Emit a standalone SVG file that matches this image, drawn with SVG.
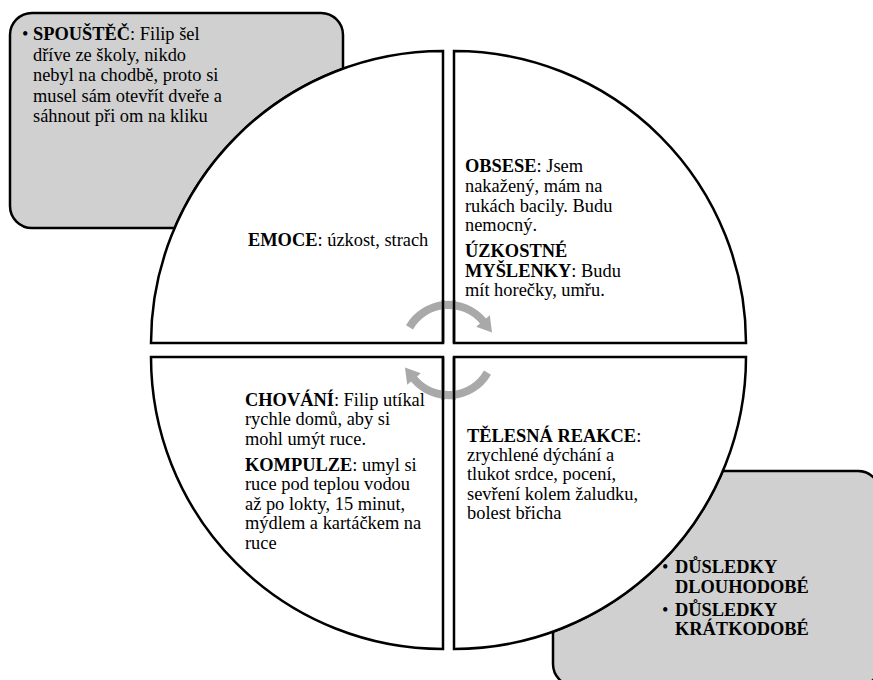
<svg xmlns="http://www.w3.org/2000/svg" width="873" height="680" viewBox="0 0 873 680">
<style>
  .box { fill: #d0d0d0; stroke: #000; stroke-width: 2.5; stroke-linejoin: round; }
  .quad { fill: #ffffff; stroke: #000; stroke-width: 2.5; }
  .outline { fill: none; stroke: #000; stroke-width: 2.5; }
  .arrow { fill: #a9a9a9; stroke: none; }
  text { font-family: "Liberation Serif", "Times New Roman", serif; font-size: 18.4px; fill: #000; }
  .b { font-weight: bold; }
</style>
<defs>
  <path id="cyc-arrow" d="M406,325.2 A49,49 0 0 1 486,318.5 L489.8,315.2 L492,332.4 L476.2,326.8 L480,323.6 A41,41 0 0 0 413,329.5 Z"/>
</defs>

<g id="spoustec">
  <path class="box" d="M32,13 H321 A22,22 0 0 1 343,35 V68.7 A292,292 0 0 0 174.6,228 H32 A22,22 0 0 1 10,206 V35 A22,22 0 0 1 32,13 Z"/>
  <text x="22" y="40">•</text>
  <text x="33" y="40"><tspan class="b">SPOUŠTĚČ</tspan>: Filip šel</text>
  <text x="33" y="60.5">dříve ze školy, nikdo</text>
  <text x="33" y="81">nebyl na chodbě, proto si</text>
  <text x="33" y="101.5">musel sám otevřít dveře a</text>
  <text x="33" y="122">sáhnout při om na kliku</text>
</g>

<g id="dusledky">
  <path class="box" d="M722.8,471 H858 A22,22 0 0 1 880,493 V664 A22,22 0 0 1 858,686 H575 A22,22 0 0 1 553,664 V631.7 A292,292 0 0 0 722.8,471 Z"/>
  <text x="662" y="573">•</text>
  <text x="675" y="573" class="b">DŮSLEDKY</text>
  <text x="675" y="592.5" class="b">DLOUHODOBÉ</text>
  <text x="662" y="616">•</text>
  <text x="675" y="616" class="b">DŮSLEDKY</text>
  <text x="675" y="635" class="b">KRÁTKODOBÉ</text>
</g>

<g id="emoce">
  <path class="quad" d="M443,343 L151,343 A292,292 0 0 1 443,51 Z"/>
  <text x="248" y="246"><tspan class="b">EMOCE</tspan>: úzkost, strach</text>
</g>

<g id="obsese">
  <path class="quad" d="M454,343 L454,51 A292,292 0 0 1 746,343 Z"/>
  <text x="465" y="172"><tspan class="b">OBSESE</tspan>: Jsem</text>
  <text x="465" y="192">nakažený, mám na</text>
  <text x="465" y="212">rukách bacily. Budu</text>
  <text x="465" y="231">nemocný.</text>
  <text x="465" y="257" class="b">ÚZKOSTNÉ</text>
  <text x="465" y="277"><tspan class="b">MYŠLENKY</tspan>: Budu</text>
  <text x="465" y="296">mít horečky, umřu.</text>
</g>

<g id="chovani">
  <path class="quad" d="M443,357 L443,649 A292,292 0 0 1 151,357 Z"/>
  <text x="245" y="405.5"><tspan class="b">CHOVÁNÍ</tspan>: Filip utíkal</text>
  <text x="245" y="425">rychle domů, aby si</text>
  <text x="245" y="444.5">mohl umýt ruce.</text>
  <text x="245" y="470.5"><tspan class="b">KOMPULZE</tspan>: umyl si</text>
  <text x="245" y="490">ruce pod teplou vodou</text>
  <text x="245" y="510">až po lokty, 15 minut,</text>
  <text x="245" y="529">mýdlem a kartáčkem na</text>
  <text x="245" y="548.5">ruce</text>
</g>

<g id="telesna-reakce">
  <path class="quad" d="M454,357 L746,357 A292,292 0 0 1 454,649 Z"/>
  <text x="467" y="441.5"><tspan class="b">TĚLESNÁ REAKCE</tspan>:</text>
  <text x="467" y="461">zrychlené dýchání a</text>
  <text x="467" y="480">tlukot srdce, pocení,</text>
  <text x="467" y="499.5">sevření kolem žaludku,</text>
  <text x="467" y="519">bolest břicha</text>
</g>

<g id="connectors">
  <use href="#cyc-arrow" class="arrow"/>
  <use href="#cyc-arrow" class="arrow" transform="rotate(180 448.5 350)"/>
</g>

<g id="quadrant-outlines">
  <path class="outline" d="M443,343 L443,300 M454,343 L454,300 M443,357 L443,400 M454,357 L454,400"/>
</g>
</svg>
